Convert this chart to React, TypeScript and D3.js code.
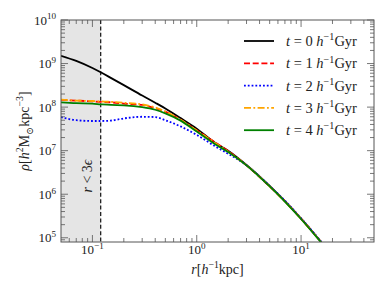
import React, { useEffect, useRef } from "react";
import * as d3 from "d3";

// radii in h^-1 kpc
const radii = [0.05, 0.07, 0.1, 0.12, 0.15, 0.2, 0.3, 0.4, 0.5, 0.7, 1, 1.5, 2, 3, 5, 7, 10, 15, 20];

// density profiles at each snapshot, h^2 Msun kpc^-3
const rhoT0 = [1.51e9, 1.15e9, 7.9e8, 6.3e8, 4.7e8, 3.2e8, 1.84e8, 1.26e8, 9.3e7, 5.6e7, 3.2e7, 1.51e7, 1.0e7, 4.7e6, 1.55e6, 6.9e5, 2.75e5, 8.9e4, 3.9e4];
const rhoT1 = [1.46e8, 1.41e8, 1.35e8, 1.32e8, 1.29e8, 1.2e8, 1.12e8, 9.5e7, 7.9e7, 5.1e7, 2.95e7, 1.55e7, 9.8e6, 4.6e6, 1.51e6, 6.9e5, 2.75e5, 8.9e4, 3.9e4];
const rhoT2 = [5.9e7, 5.0e7, 4.8e7, 4.8e7, 4.9e7, 5.5e7, 6.0e7, 5.9e7, 5.0e7, 3.6e7, 2.3e7, 1.26e7, 8.5e6, 4.6e6, 1.55e6, 7.1e5, 2.8e5, 9.1e4, 4.0e4];
const rhoT3 = [1.48e8, 1.41e8, 1.38e8, 1.35e8, 1.32e8, 1.26e8, 1.15e8, 9.8e7, 7.9e7, 5.1e7, 2.9e7, 1.51e7, 9.5e6, 4.6e6, 1.51e6, 6.8e5, 2.7e5, 8.8e4, 3.8e4];
const rhoT4 = [1.29e8, 1.23e8, 1.2e8, 1.16e8, 1.12e8, 1.1e8, 1.0e8, 8.7e7, 7.2e7, 4.9e7, 2.75e7, 1.41e7, 9.3e6, 4.6e6, 1.51e6, 6.8e5, 2.7e5, 8.7e4, 3.8e4];

const times = ["0", "1", "2", "3", "4"];
const seriesValues = [rhoT0, rhoT1, rhoT2, rhoT3, rhoT4];
const colors = ["#000000", "#ff0000", "#0000ff", "#ffa500", "#008000"];
const dashes = ["none", "6,2.7", "1.8,2", "7,2.4,1.8,2.4", "none"];

const xTicks = [0.1, 1, 10];
const xTickExp = ["−1", "0", "1"];
const yTicks = [1e5, 1e6, 1e7, 1e8, 1e9, 1e10];
const yTickExp = ["5", "6", "7", "8", "9", "10"];

const softening3 = 0.12;

const FONT = "'Liberation Serif', 'DejaVu Serif', serif";

type Part = { t: string; it?: boolean; sup?: boolean; sub?: boolean };

// append text made of plain / italic / raised / lowered pieces
const rich = (sel: any, parts: Part[], size: number) => {
  let shift = 0;
  parts.forEach((p) => {
    const target = p.sup ? -size * 0.4 : p.sub ? size * 0.25 : 0;
    sel
      .append("tspan")
      .attr("dy", target - shift)
      .attr("font-size", p.sup || p.sub ? size * 0.7 : size)
      .attr("font-style", p.it ? "italic" : "normal")
      .text(p.t);
    shift = target;
  });
};

const App = () => {
  const svgRef = useRef<SVGSVGElement>(null);

  useEffect(() => {
    document.body.style.margin = "0";
    const svg = d3.select(svgRef.current);
    svg.selectAll("*").remove();

    const margin = { top: 20, right: 16, bottom: 51, left: 61 };
    const W = 390;
    const H = 293;

    const x = d3.scaleLog().domain([0.05, 50]).range([margin.left, W - margin.right]);
    const y = d3.scaleLog().domain([8e4, 1e10]).range([H - margin.bottom, margin.top]);
    const [x0, x1] = x.range();
    const [y0, y1] = y.range();

    svg
      .append("defs")
      .append("clipPath")
      .attr("id", "plot-clip")
      .append("rect")
      .attr("x", x0)
      .attr("y", y1)
      .attr("width", x1 - x0)
      .attr("height", y0 - y1);

    // r < 3 eps region
    svg
      .append("rect")
      .attr("x", x0)
      .attr("y", y1)
      .attr("width", x(softening3) - x0)
      .attr("height", y0 - y1)
      .attr("fill", "#e5e5e5");

    svg
      .append("line")
      .attr("x1", x(softening3))
      .attr("x2", x(softening3))
      .attr("y1", y1)
      .attr("y2", y0)
      .attr("stroke", "#222")
      .attr("stroke-width", 1.3)
      .attr("stroke-dasharray", "4,2.4");

    const epsLabel = svg
      .append("text")
      .attr("transform", `translate(${x(softening3) - 9},176) rotate(-90)`)
      .attr("text-anchor", "middle")
      .attr("font-family", FONT)
      .attr("fill", "#222");
    rich(epsLabel, [{ t: "r", it: true }, { t: " < 3" }, { t: "ϵ", it: true }], 14);

    // curves
    const line = d3
      .line<number>()
      .x((d, i) => x(radii[i]))
      .y((d) => y(d))
      .curve(d3.curveMonotoneX);

    const curves = svg.append("g").attr("clip-path", "url(#plot-clip)");
    seriesValues.forEach((vals, k) => {
      curves
        .append("path")
        .datum(vals)
        .attr("d", line)
        .attr("fill", "none")
        .attr("stroke", colors[k])
        .attr("stroke-width", 1.8)
        .attr("stroke-dasharray", dashes[k]);
    });

    // ticks, inward on all four sides
    const frame = "#555";
    const ticks = svg.append("g").attr("stroke", frame).attr("stroke-width", 0.8);
    const minorX: number[] = [];
    const minorY: number[] = [];
    for (let e = -2; e <= 1; e++) {
      for (let m = 2; m <= 9; m++) {
        const v = m * Math.pow(10, e);
        if (v > 0.05 && v < 50) minorX.push(v);
      }
    }
    for (let e = 4; e <= 9; e++) {
      for (let m = 2; m <= 9; m++) {
        const v = m * Math.pow(10, e);
        if (v > 8e4 && v < 1e10) minorY.push(v);
      }
    }
    const xt = [...xTicks.map((v) => [v, 7]), ...minorX.map((v) => [v, 4])];
    const yt = [...yTicks.map((v) => [v, 7]), ...minorY.map((v) => [v, 4])];
    xt.forEach(([v, len]) => {
      ticks.append("line").attr("x1", x(v)).attr("x2", x(v)).attr("y1", y0).attr("y2", y0 - len);
      ticks.append("line").attr("x1", x(v)).attr("x2", x(v)).attr("y1", y1).attr("y2", y1 + len);
    });
    yt.forEach(([v, len]) => {
      ticks.append("line").attr("y1", y(v)).attr("y2", y(v)).attr("x1", x0).attr("x2", x0 + len);
      ticks.append("line").attr("y1", y(v)).attr("y2", y(v)).attr("x1", x1).attr("x2", x1 - len);
    });

    svg
      .append("rect")
      .attr("x", x0)
      .attr("y", y1)
      .attr("width", x1 - x0)
      .attr("height", y0 - y1)
      .attr("fill", "none")
      .attr("stroke", frame)
      .attr("stroke-width", 1);

    // tick labels
    xTicks.forEach((v, i) => {
      const t = svg
        .append("text")
        .attr("x", x(v))
        .attr("y", y0 + 12)
        .attr("text-anchor", "middle")
        .attr("font-family", FONT)
        .attr("fill", "#222");
      rich(t, [{ t: "10" }, { t: xTickExp[i], sup: true }], 13);
    });
    yTicks.forEach((v, i) => {
      const t = svg
        .append("text")
        .attr("x", x0 - 5)
        .attr("y", y(v) + 4.5)
        .attr("text-anchor", "end")
        .attr("font-family", FONT)
        .attr("fill", "#222");
      rich(t, [{ t: "10" }, { t: yTickExp[i], sup: true }], 13);
    });

    // axis titles
    const xl = svg
      .append("text")
      .attr("x", (x0 + x1) / 2)
      .attr("y", 274)
      .attr("text-anchor", "middle")
      .attr("font-family", FONT)
      .attr("fill", "#222");
    rich(
      xl,
      [{ t: "r", it: true }, { t: "[" }, { t: "h", it: true }, { t: "−1", sup: true }, { t: "kpc]" }],
      14
    );

    const yl = svg
      .append("text")
      .attr("transform", `translate(29,${(y0 + y1) / 2}) rotate(-90)`)
      .attr("text-anchor", "middle")
      .attr("font-family", FONT)
      .attr("fill", "#222");
    rich(
      yl,
      [
        { t: "ρ", it: true },
        { t: "[" },
        { t: "h", it: true },
        { t: "2", sup: true },
        { t: "M" },
        { t: "⊙", sub: true },
        { t: "kpc" },
        { t: "−3", sup: true },
        { t: "]" },
      ],
      14
    );

    // legend
    const legend = svg
      .append("g")
      .selectAll("g")
      .data(times)
      .enter()
      .append("g")
      .attr("transform", (d, i) => `translate(244,${41 + i * 22.3})`);

    legend
      .append("line")
      .attr("x1", 0)
      .attr("x2", 30)
      .attr("stroke", (d, i) => colors[i])
      .attr("stroke-width", 1.8)
      .attr("stroke-dasharray", (d, i) => dashes[i]);

    legend.each(function (d) {
      const t = d3
        .select(this)
        .append("text")
        .attr("x", 42)
        .attr("y", 5)
        .attr("font-family", FONT)
        .attr("fill", "#222");
      rich(
        t,
        [
          { t: "t", it: true },
          { t: " = " + d + " " },
          { t: "h", it: true },
          { t: "−1", sup: true },
          { t: "Gyr" },
        ],
        14.5
      );
    });
  }, []);

  return <svg ref={svgRef} width={390} height={293} style={{ display: "block" }}></svg>;
};

export default App;
